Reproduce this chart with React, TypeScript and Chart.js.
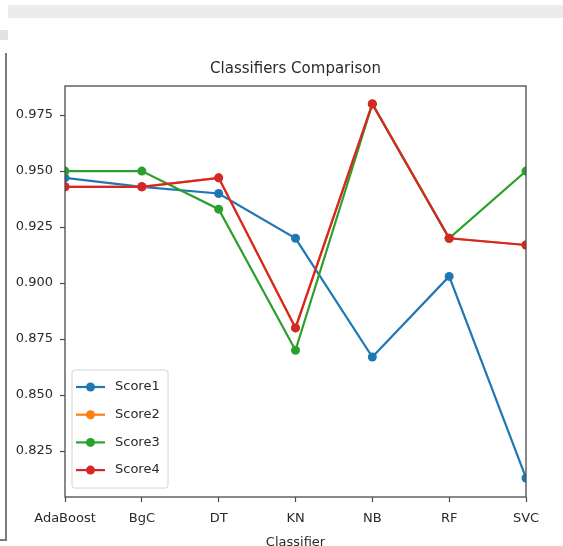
import React, { useEffect, useRef } from "react";
import { Chart, registerables } from "chart.js";

Chart.register(...registerables);

const categories = ["AdaBoost", "BgC", "DT", "KN", "NB", "RF", "SVC"];
const score1 = [0.947, 0.943, 0.94, 0.92, 0.867, 0.903, 0.813];
const score2 = [0.943, 0.943, 0.947, 0.88, 0.98, 0.92, 0.917];
const score3 = [0.95, 0.95, 0.933, 0.87, 0.98, 0.92, 0.95];
const score4 = [0.943, 0.943, 0.947, 0.88, 0.98, 0.92, 0.917];
const seriesNames = ["Score1", "Score2", "Score3", "Score4"];
const seriesColors = ["#1f77b4", "#ff7f0e", "#2ca02c", "#d62728"];
const yTicks = [0.825, 0.85, 0.875, 0.9, 0.925, 0.95, 0.975];
const yMin = 0.8045;
const yMax = 0.988;

const FONT = "'DejaVu Sans', 'Liberation Sans', sans-serif";
const TEXT = "#2a2a2a";
const FRAME = "#4a4a4a";

const framePlugin = {
  id: "frame",
  afterDatasetsDraw(chart: any) {
    const { ctx, chartArea: a } = chart;
    ctx.save();
    ctx.strokeStyle = FRAME;
    ctx.lineWidth = 1.3;
    ctx.strokeRect(a.left, a.top, a.right - a.left, a.bottom - a.top);
    ctx.restore();
  },
};

const legendPlugin = {
  id: "innerLegend",
  afterDraw(chart: any) {
    const { ctx, chartArea: a } = chart;
    const w = 96;
    const h = 118;
    const x0 = a.left + 7;
    const y0 = a.bottom - 9 - h;
    ctx.save();
    ctx.beginPath();
    const r = 3;
    ctx.moveTo(x0 + r, y0);
    ctx.lineTo(x0 + w - r, y0);
    ctx.quadraticCurveTo(x0 + w, y0, x0 + w, y0 + r);
    ctx.lineTo(x0 + w, y0 + h - r);
    ctx.quadraticCurveTo(x0 + w, y0 + h, x0 + w - r, y0 + h);
    ctx.lineTo(x0 + r, y0 + h);
    ctx.quadraticCurveTo(x0, y0 + h, x0, y0 + h - r);
    ctx.lineTo(x0, y0 + r);
    ctx.quadraticCurveTo(x0, y0, x0 + r, y0);
    ctx.closePath();
    ctx.fillStyle = "rgba(255,255,255,0.8)";
    ctx.fill();
    ctx.strokeStyle = "#d4d4d4";
    ctx.lineWidth = 1;
    ctx.stroke();
    ctx.font = `13px ${FONT}`;
    ctx.textBaseline = "middle";
    ctx.textAlign = "left";
    chart.data.datasets.forEach((ds: any, i: number) => {
      const y = y0 + 17 + i * 27.7;
      ctx.strokeStyle = ds.borderColor;
      ctx.lineWidth = 2.2;
      ctx.beginPath();
      ctx.moveTo(x0 + 4, y);
      ctx.lineTo(x0 + 33, y);
      ctx.stroke();
      ctx.fillStyle = ds.borderColor;
      ctx.beginPath();
      ctx.arc(x0 + 18.5, y, 4.5, 0, Math.PI * 2);
      ctx.fill();
      ctx.fillStyle = TEXT;
      ctx.fillText(ds.label, x0 + 43, y);
    });
    ctx.restore();
  },
};

export default function App() {
  const ref = useRef<HTMLCanvasElement | null>(null);

  useEffect(() => {
    if (!ref.current) return;
    const all = [score1, score2, score3, score4];
    const chart = new Chart(ref.current, {
      type: "line",
      data: {
        labels: categories,
        datasets: all.map((d, i) => ({
          label: seriesNames[i],
          data: d,
          borderColor: seriesColors[i],
          backgroundColor: seriesColors[i],
          pointBackgroundColor: seriesColors[i],
          pointBorderColor: seriesColors[i],
          pointBorderWidth: 0,
          pointRadius: 4.5,
          borderWidth: 2.2,
          tension: 0,
          fill: false,
          clip: 0,
          order: 4 - i,
        })),
      },
      options: {
        animation: false,
        responsive: false,
        maintainAspectRatio: false,
        events: [],
        layout: { padding: { top: 60, right: 37, left: 0, bottom: 0 } },
        plugins: {
          legend: { display: false },
          tooltip: { enabled: false },
          title: {
            display: true,
            text: "Classifiers Comparison",
            fullSize: false,
            color: TEXT,
            font: { family: FONT, size: 15, weight: "normal" },
            padding: { top: 0, bottom: 8 },
          },
        },
        scales: {
          x: {
            type: "category",
            offset: false,
            afterFit(scale: any) {
              scale.height = 49;
            },
            border: { display: false },
            grid: {
              display: true,
              drawOnChartArea: false,
              drawTicks: true,
              tickLength: 5,
              tickColor: FRAME,
              tickWidth: 1.2,
            },
            ticks: {
              autoSkip: false,
              maxRotation: 0,
              padding: 9,
              color: TEXT,
              font: { family: FONT, size: 13 },
            },
            title: {
              display: true,
              text: "Classifier",
              color: TEXT,
              font: { family: FONT, size: 13 },
              padding: { top: 0, bottom: -4 },
            },
          },
          y: {
            type: "linear",
            min: yMin,
            max: yMax,
            afterFit(scale: any) {
              scale.width = 65;
            },
            afterBuildTicks(scale: any) {
              scale.ticks = yTicks.map((v) => ({ value: v }));
            },
            border: { display: false },
            grid: {
              display: true,
              drawOnChartArea: false,
              drawTicks: true,
              tickLength: 5,
              tickColor: FRAME,
              tickWidth: 1.2,
            },
            ticks: {
              padding: 7,
              color: TEXT,
              font: { family: FONT, size: 13 },
              callback: (v: any) => Number(v).toFixed(3),
            },
          },
        },
      } as any,
      plugins: [framePlugin, legendPlugin],
    });
    return () => chart.destroy();
  }, []);

  return (
    <div
      style={{
        position: "absolute",
        left: 0,
        top: 0,
        width: 563,
        height: 546,
        background: "#fff",
        overflow: "hidden",
      }}
    >
      <div style={{ position: "absolute", left: 8, top: 5, width: 555, height: 13, background: "#ececec" }} />
      <div style={{ position: "absolute", left: 0, top: 30, width: 8, height: 10, background: "#e2e2e2" }} />
      <div style={{ position: "absolute", left: 5, top: 53, width: 2, height: 487, background: "#7a7a7a" }} />
      <div style={{ position: "absolute", left: 0, top: 539, width: 7, height: 2, background: "#7a7a7a" }} />
      <canvas ref={ref} width={563} height={546} style={{ position: "absolute", left: 0, top: 0, width: 563, height: 546 }} />
    </div>
  );
}
